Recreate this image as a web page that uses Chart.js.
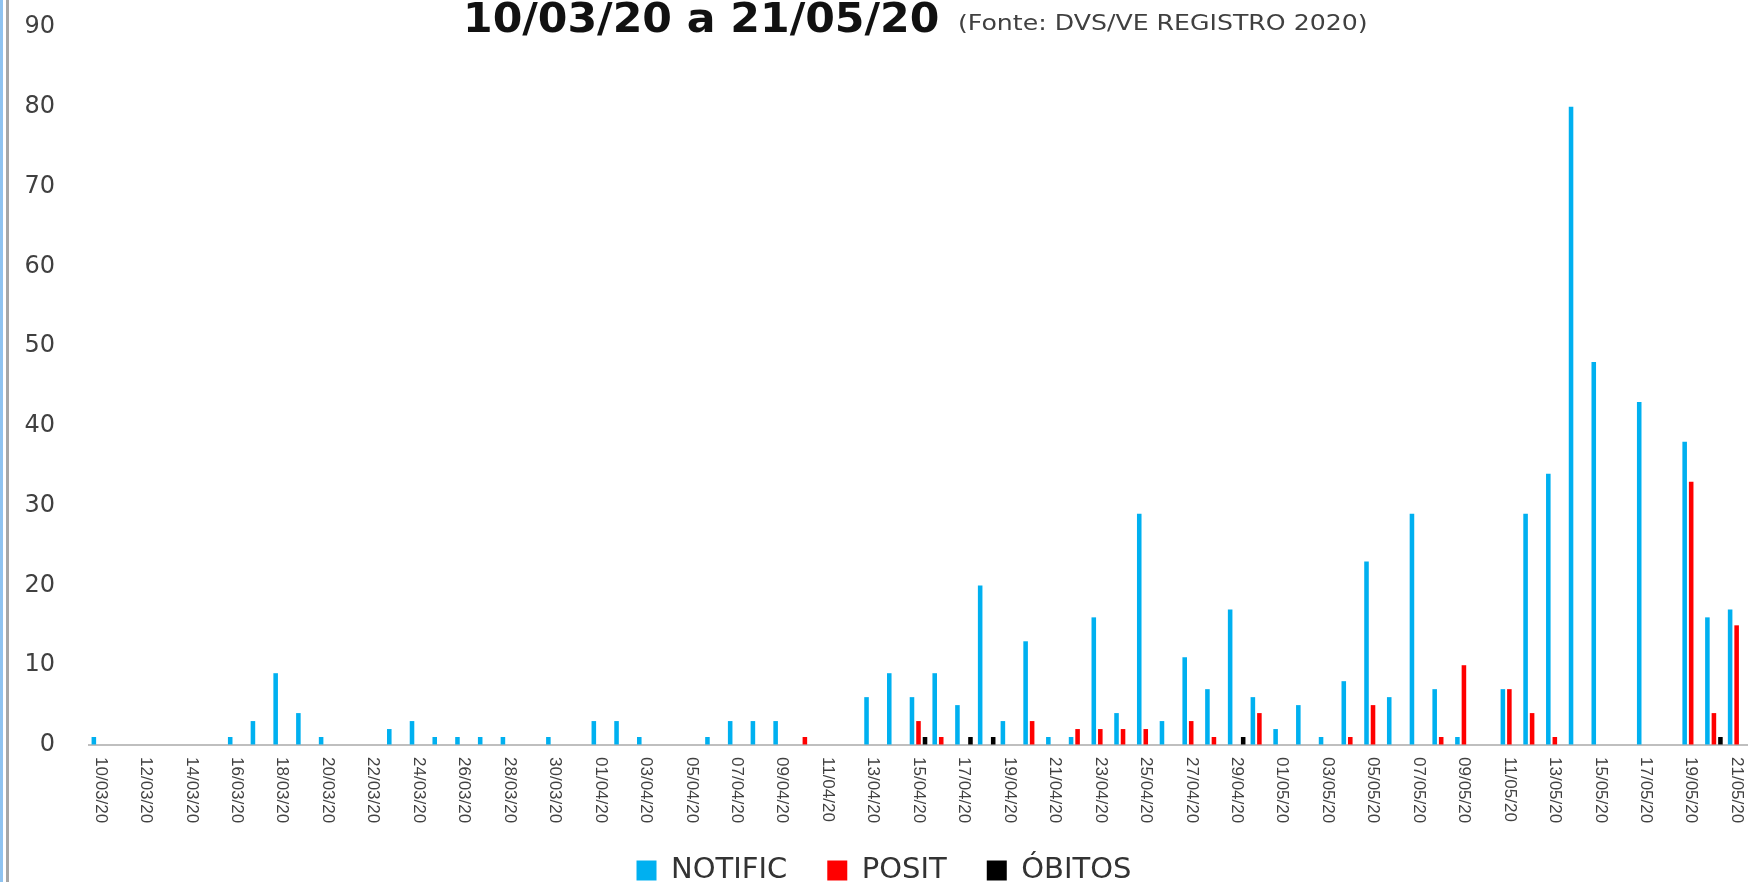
<!DOCTYPE html>
<html lang="pt-BR">
<head>
<meta charset="utf-8">
<title>Notificações 10/03/20 a 21/05/20</title>
<script src="https://cdn.jsdelivr.net/npm/chart.js@4.4.1/dist/chart.umd.min.js"></script>
<style>
  html, body { margin: 0; padding: 0; overflow: hidden; }
  body {
    width: 1748px;
    height: 882px;
    /* moldura da esquerda (borda azul + linha cinza) */
    background: linear-gradient(to right, #8fc3f0 0, #8fc3f0 3px, #fff 3px, #fff 6px, #a6a6a6 6px, #a6a6a6 9px, #fff 9px);
  }
  canvas { display: block; }
</style>
</head>
<body>
<canvas id="chart" width="1748" height="895"></canvas>
<script>
var dias = [
  '10/03/20', '11/03/20', '12/03/20', '13/03/20', '14/03/20', '15/03/20', '16/03/20', '17/03/20',
  '18/03/20', '19/03/20', '20/03/20', '21/03/20', '22/03/20', '23/03/20', '24/03/20', '25/03/20',
  '26/03/20', '27/03/20', '28/03/20', '29/03/20', '30/03/20', '31/03/20',
  '01/04/20', '02/04/20', '03/04/20', '04/04/20', '05/04/20', '06/04/20', '07/04/20', '08/04/20',
  '09/04/20', '10/04/20', '11/04/20', '12/04/20', '13/04/20', '14/04/20', '15/04/20', '16/04/20',
  '17/04/20', '18/04/20', '19/04/20', '20/04/20', '21/04/20', '22/04/20', '23/04/20', '24/04/20',
  '25/04/20', '26/04/20', '27/04/20', '28/04/20', '29/04/20', '30/04/20',
  '01/05/20', '02/05/20', '03/05/20', '04/05/20', '05/05/20', '06/05/20', '07/05/20', '08/05/20',
  '09/05/20', '10/05/20', '11/05/20', '12/05/20', '13/05/20', '14/05/20', '15/05/20', '16/05/20',
  '17/05/20', '18/05/20', '19/05/20', '20/05/20', '21/05/20'
];

var notific = [
  1, 0, 0, 0, 0, 0, 1, 3, 9, 4, 1, 0, 0, 2, 3, 1, 1, 1, 1, 0, 1, 0,
  3, 3, 1, 0, 0, 1, 3, 3, 3, 0, 0, 0, 6, 9, 6, 9, 5, 20, 3, 13, 1, 1, 16, 4, 29, 3, 11, 7, 17, 6,
  2, 5, 1, 8, 23, 6, 29, 7, 1, 0, 7, 29, 34, 80, 48, 0, 43, 0, 38, 16, 17
];

var posit = [
  0, 0, 0, 0, 0, 0, 0, 0, 0, 0, 0, 0, 0, 0, 0, 0, 0, 0, 0, 0, 0, 0,
  0, 0, 0, 0, 0, 0, 0, 0, 0, 1, 0, 0, 0, 0, 3, 1, 0, 0, 0, 3, 0, 2, 2, 2, 2, 0, 3, 1, 0, 4,
  0, 0, 0, 1, 5, 0, 0, 1, 10, 0, 7, 4, 1, 0, 0, 0, 0, 0, 33, 4, 15
];

var obitos = [
  0, 0, 0, 0, 0, 0, 0, 0, 0, 0, 0, 0, 0, 0, 0, 0, 0, 0, 0, 0, 0, 0,
  0, 0, 0, 0, 0, 0, 0, 0, 0, 0, 0, 0, 0, 0, 1, 0, 1, 1, 0, 0, 0, 0, 0, 0, 0, 0, 0, 0, 1, 0,
  0, 0, 0, 0, 0, 0, 0, 0, 0, 0, 0, 0, 0, 0, 0, 0, 0, 0, 0, 1, 0
];

var tituloPeriodo = '10/03/20 a 21/05/20';
var tituloFonte = '(Fonte: DVS/VE REGISTRO 2020)';

// rótulos do eixo X: um a cada dois dias, lidos de cima para baixo
var rotulosX = {
  id: 'rotulosX',
  afterDraw: function(chart) {
    var ctx = chart.ctx;
    var escalaX = chart.scales.x;
    ctx.save();
    ctx.fillStyle = '#404040';
    ctx.font = '17px "Liberation Sans"';
    ctx.textAlign = 'left';
    ctx.textBaseline = 'middle';
    for (var i = 0; i < dias.length; i += 2) {
      ctx.save();
      ctx.translate(escalaX.getPixelForValue(i), escalaX.top + 12);
      ctx.rotate(Math.PI / 2);
      ctx.fillText(dias[i], 0, 0);
      ctx.restore();
    }
    ctx.restore();
  }
};

// título com a fonte dos dados na mesma linha
var titulo = {
  id: 'titulo',
  afterDraw: function(chart) {
    var ctx = chart.ctx;
    ctx.save();
    ctx.textAlign = 'left';
    ctx.textBaseline = 'alphabetic';

    ctx.fillStyle = '#111';
    ctx.font = 'bold 40px "DejaVu Sans"';
    ctx.save();
    ctx.translate(463, 32);
    ctx.scale(1.065, 1);
    ctx.fillText(tituloPeriodo, 0, 0);
    ctx.restore();

    ctx.fillStyle = '#404040';
    ctx.font = '21px "DejaVu Sans"';
    ctx.save();
    ctx.translate(958, 30);
    ctx.scale(1.2, 1);
    ctx.fillText(tituloFonte, 0, 0);
    ctx.restore();

    ctx.restore();
  }
};

var ctx = document.getElementById('chart').getContext('2d');

var chart = new Chart(ctx, {
  type: 'bar',
  data: {
    labels: dias,
    datasets: [
      {
        label: 'NOTIFIC',
        data: notific,
        backgroundColor: '#00B0F0'
      },
      {
        label: 'POSIT',
        data: posit,
        backgroundColor: '#FF0000'
      },
      {
        label: 'ÓBITOS',
        data: obitos,
        backgroundColor: '#000000'
      }
    ]
  },
  options: {
    responsive: false,
    animation: false,
    devicePixelRatio: 1,
    datasets: {
      bar: {
        categoryPercentage: 0.86,
        barPercentage: 0.7
      }
    },
    layout: {
      padding: { top: 27, left: 20, right: 0, bottom: 0 }
    },
    plugins: {
      legend: {
        position: 'bottom',
        labels: {
          boxWidth: 20,
          boxHeight: 20,
          padding: 40,
          color: '#333',
          font: { family: 'DejaVu Sans', size: 29 }
        }
      },
      title: { display: false },
      tooltip: { enabled: false }
    },
    scales: {
      x: {
        grid: { display: false },
        border: { display: true, color: '#bfbfbf', width: 2 },
        ticks: { display: false },
        afterFit: function(scale) {
          scale.height = 71;
        }
      },
      y: {
        min: 0,
        max: 90,
        // marcas invisíveis só para afastar os números do eixo
        grid: {
          display: true,
          drawOnChartArea: false,
          drawTicks: true,
          tickLength: 34,
          color: 'rgba(0,0,0,0)'
        },
        border: { display: false },
        ticks: {
          stepSize: 10,
          padding: 0,
          color: '#404040',
          font: { family: 'DejaVu Sans', size: 24 }
        },
        afterFit: function(scale) {
          scale.width = 69;
        }
      }
    }
  },
  plugins: [rotulosX, titulo]
});
</script>
</body>
</html>
